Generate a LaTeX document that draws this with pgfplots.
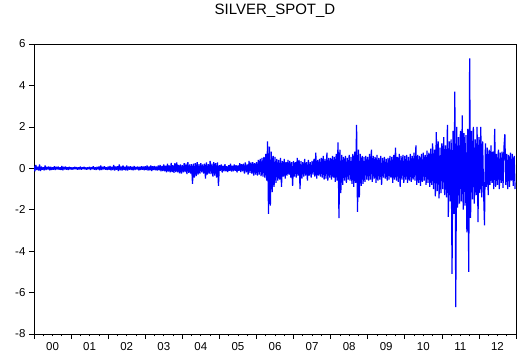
\documentclass[border=0pt]{standalone}
\usepackage{fontspec}
\setmainfont{Liberation Sans}
\usepackage{pgfplots}
\pgfplotsset{compat=1.18}
\begin{document}
\begin{tikzpicture}
\begin{axis}[
  scale only axis, width=482pt, height=290pt,
  xmin=0, xmax=13, ymin=-8, ymax=6,
  ytick={-8,-6,...,6},
  xtick={0,...,13},
  xticklabels={00,01,02,03,04,05,06,07,08,09,10,11,12,13},
  x tick label as interval,
  minor x tick num=3,
  tick align=outside,
  xtick pos=bottom, ytick pos=left,
  major tick length=5pt, minor tick length=2.5pt,
  axis line style={black, line width=0.9pt},
  every tick/.style={black, line width=0.7pt},
  ticklabel style={font=\fontsize{11.5}{13}\selectfont},
  /pgf/number format/assume math mode=true,
  title={SILVER\_SPOT\_D},
  title style={font=\fontsize{15}{18}\selectfont, at={(0.5,1)}, anchor=base, yshift=23pt},
  clip=true,
]
\coordinate (bl) at (rel axis cs:0,0);
\coordinate (tr) at (rel axis cs:1,1);
\addplot[color={rgb,255:red,0;green,0;blue,255}, line width=1.2pt, line join=miter, miter limit=2] table[row sep=\\, x expr=\coordindex/40, y index=0] {
0.10\\ -0.14\\ 0.16\\ -0.08\\ 0.07\\ -0.11\\ 0.18\\ -0.13\\ 0.08\\ -0.07\\
0.05\\ -0.10\\ 0.13\\ -0.08\\ 0.07\\ -0.05\\ 0.08\\ -0.10\\ 0.07\\ -0.08\\
0.05\\ -0.07\\ 0.10\\ -0.08\\ 0.07\\ -0.05\\ 0.08\\ -0.07\\ 0.05\\ -0.08\\
0.11\\ -0.10\\ 0.07\\ -0.05\\ 0.08\\ -0.07\\ 0.05\\ -0.08\\ 0.07\\ -0.05\\
0.05\\ -0.07\\ 0.04\\ -0.05\\ 0.07\\ -0.04\\ 0.05\\ -0.07\\ 0.04\\ -0.05\\
0.08\\ -0.07\\ 0.05\\ -0.04\\ 0.07\\ -0.05\\ 0.04\\ -0.07\\ 0.05\\ -0.04\\
0.07\\ -0.08\\ 0.05\\ -0.04\\ 0.10\\ -0.07\\ 0.05\\ -0.08\\ 0.07\\ -0.05\\
0.08\\ -0.10\\ 0.13\\ -0.08\\ 0.07\\ -0.05\\ 0.10\\ -0.07\\ 0.05\\ -0.08\\
0.08\\ -0.07\\ 0.11\\ -0.10\\ 0.07\\ -0.08\\ 0.16\\ -0.11\\ 0.08\\ -0.07\\
0.10\\ -0.13\\ 0.19\\ -0.10\\ 0.08\\ -0.11\\ 0.14\\ -0.08\\ 0.07\\ -0.10\\
0.13\\ -0.11\\ 0.08\\ -0.07\\ 0.10\\ -0.08\\ 0.07\\ -0.10\\ 0.11\\ -0.08\\
0.07\\ -0.05\\ 0.08\\ -0.10\\ 0.07\\ -0.08\\ 0.10\\ -0.07\\ 0.08\\ -0.10\\
0.10\\ -0.08\\ 0.13\\ -0.11\\ 0.08\\ -0.10\\ 0.14\\ -0.13\\ 0.10\\ -0.08\\
0.11\\ -0.10\\ 0.08\\ -0.11\\ 0.13\\ -0.10\\ 0.16\\ -0.14\\ 0.11\\ -0.13\\
0.18\\ -0.15\\ 0.12\\ -0.19\\ 0.22\\ -0.16\\ 0.14\\ -0.20\\ 0.26\\ -0.18\\
0.15\\ -0.22\\ 0.24\\ -0.18\\ 0.28\\ -0.20\\ 0.16\\ -0.24\\ 0.19\\ -0.26\\
0.15\\ -0.20\\ 0.25\\ -0.18\\ 0.22\\ -0.28\\ 0.30\\ -0.22\\ 0.18\\ -0.25\\
0.20\\ -0.75\\ 0.22\\ -0.45\\ 0.25\\ -0.38\\ 0.30\\ -0.30\\ 0.20\\ -0.25\\
0.25\\ -0.20\\ 0.18\\ -0.25\\ 0.22\\ -0.50\\ 0.28\\ -0.30\\ 0.20\\ -0.25\\
0.35\\ -0.28\\ 0.22\\ -0.40\\ 0.30\\ -0.35\\ 0.25\\ -0.45\\ 0.28\\ -0.85\\
0.15\\ -0.12\\ 0.18\\ -0.20\\ 0.12\\ -0.15\\ 0.20\\ -0.14\\ 0.10\\ -0.18\\
0.15\\ -0.12\\ 0.22\\ -0.16\\ 0.12\\ -0.14\\ 0.18\\ -0.12\\ 0.15\\ -0.20\\
0.14\\ -0.12\\ 0.25\\ -0.18\\ 0.20\\ -0.15\\ 0.22\\ -0.25\\ 0.28\\ -0.20\\
0.18\\ -0.30\\ 0.35\\ -0.22\\ 0.28\\ -0.25\\ 0.30\\ -0.35\\ 0.25\\ -0.30\\
0.30\\ -0.35\\ 0.40\\ -0.30\\ 0.45\\ -0.38\\ 0.50\\ -0.40\\ 0.55\\ -0.45\\
0.70\\ -0.60\\ 1.30\\ -2.20\\ 1.05\\ -1.80\\ 0.80\\ -1.15\\ 0.60\\ -0.90\\
0.55\\ -0.70\\ 0.45\\ -0.60\\ 0.40\\ -0.55\\ 0.50\\ -0.90\\ 0.35\\ -0.40\\
0.45\\ -0.50\\ 0.30\\ -0.35\\ 0.40\\ -0.30\\ 0.35\\ -0.45\\ 0.30\\ -0.85\\
0.35\\ -0.40\\ 0.30\\ -0.45\\ 0.50\\ -0.35\\ 0.40\\ -1.00\\ 0.35\\ -0.50\\
0.30\\ -0.40\\ 0.45\\ -0.35\\ 0.30\\ -0.60\\ 0.40\\ -0.35\\ 0.30\\ -0.45\\
0.35\\ -0.30\\ 0.45\\ -0.40\\ 0.75\\ -0.50\\ 0.40\\ -0.35\\ 0.45\\ -0.40\\
0.50\\ -0.45\\ 0.60\\ -0.55\\ 0.45\\ -0.50\\ 0.75\\ -0.60\\ 0.50\\ -0.45\\
0.50\\ -0.55\\ 0.60\\ -0.45\\ 0.55\\ -0.65\\ 0.70\\ -0.60\\ 1.25\\ -2.40\\
0.90\\ -1.20\\ 0.65\\ -0.80\\ 0.55\\ -0.60\\ 0.60\\ -0.70\\ 0.50\\ -0.55\\
0.65\\ -0.60\\ 0.55\\ -0.75\\ 0.70\\ -0.90\\ 0.80\\ -0.70\\ 2.10\\ -2.10\\
0.90\\ -1.40\\ 0.70\\ -0.85\\ 0.60\\ -0.75\\ 0.55\\ -0.65\\ 0.60\\ -0.55\\
0.55\\ -0.60\\ 0.70\\ -0.55\\ 0.90\\ -0.65\\ 0.60\\ -0.50\\ 0.55\\ -0.70\\
0.65\\ -0.60\\ 0.50\\ -0.55\\ 0.60\\ -0.80\\ 0.50\\ -0.45\\ 0.55\\ -0.50\\
0.45\\ -0.60\\ 0.50\\ -0.55\\ 0.60\\ -0.45\\ 0.55\\ -0.70\\ 0.65\\ -0.55\\
1.00\\ -0.60\\ 0.55\\ -0.65\\ 0.70\\ -0.90\\ 0.60\\ -0.55\\ 0.65\\ -0.70\\
0.60\\ -0.55\\ 0.65\\ -0.70\\ 0.55\\ -0.60\\ 0.70\\ -0.65\\ 0.60\\ -0.55\\
0.75\\ -0.60\\ 1.10\\ -0.80\\ 0.65\\ -0.70\\ 0.60\\ -0.85\\ 0.70\\ -0.65\\
0.75\\ -0.60\\ 0.65\\ -0.80\\ 0.85\\ -0.70\\ 0.75\\ -0.90\\ 0.95\\ -0.80\\
1.20\\ -1.00\\ 0.90\\ -1.35\\ 1.75\\ -1.10\\ 1.30\\ -1.45\\ 1.00\\ -1.20\\
1.20\\ -1.00\\ 1.50\\ -1.30\\ 1.10\\ -1.40\\ 2.10\\ -2.35\\ 1.30\\ -1.60\\
1.40\\ -5.10\\ 1.80\\ -2.20\\ 3.70\\ -6.70\\ 2.00\\ -1.90\\ 1.50\\ -1.70\\
1.80\\ -1.60\\ 2.55\\ -2.00\\ 1.70\\ -1.80\\ 1.60\\ -3.10\\ 1.90\\ -5.00\\
5.30\\ -2.40\\ 1.80\\ -1.50\\ 2.00\\ -1.70\\ 1.40\\ -1.30\\ 2.00\\ -2.60\\
1.50\\ -1.20\\ 2.00\\ -1.40\\ 1.30\\ -1.10\\ -2.75\\ 1.20\\ -0.90\\ 1.00\\
-1.30\\ 0.90\\ -0.80\\ 1.10\\ -0.70\\ 0.80\\ -1.00\\ 1.90\\ -0.90\\ 0.70\\
-0.80\\ 0.90\\ -1.00\\ 0.75\\ -0.70\\ 0.80\\ -0.95\\ 1.00\\ 1.65\\ -0.80\\
0.70\\ -1.00\\ 0.65\\ -0.90\\ 0.75\\ -0.60\\ 0.70\\ -0.85\\ 0.60\\ -1.00\\
};
\end{axis}
\pgfresetboundingbox
\path ([shift={(-34pt,-22pt)}]bl) rectangle ([shift={(2pt,44pt)}]tr);
\end{tikzpicture}
\end{document}
